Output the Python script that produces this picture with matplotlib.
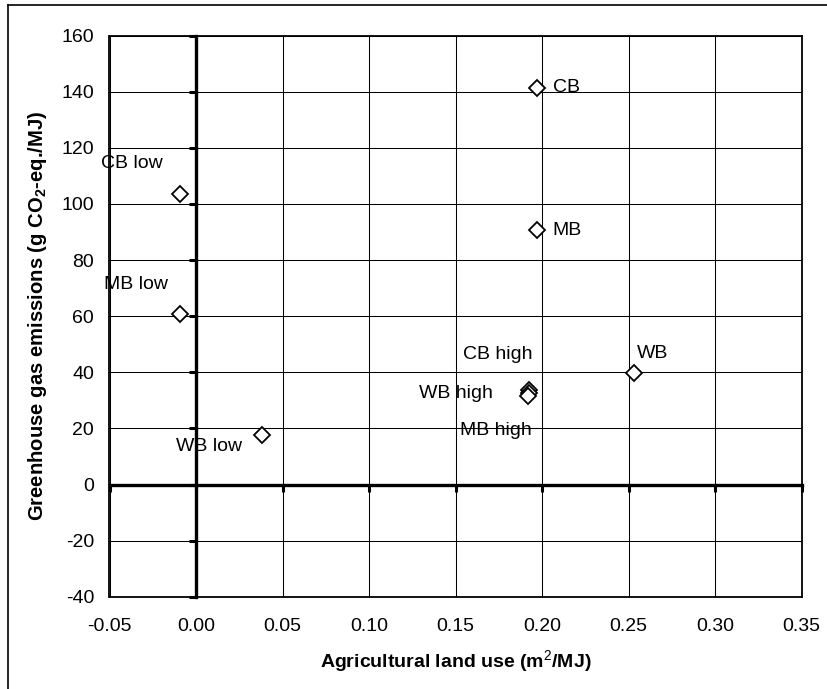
import matplotlib
matplotlib.use("Agg")
import matplotlib.pyplot as plt
from matplotlib.lines import Line2D

plt.rcParams['font.family'] = ['Liberation Sans', 'DejaVu Sans']
plt.rcParams['mathtext.fontset'] = 'custom'
plt.rcParams['mathtext.rm'] = 'Liberation Sans'
plt.rcParams['mathtext.bf'] = 'Liberation Sans:bold'

labels = ["CB", "MB", "CB low", "MB low", "WB low", "WB", "CB high", "WB high", "MB high"]
land_use = [0.197, 0.197, -0.0092, -0.0092, 0.038, 0.2533, 0.1927, 0.1922, 0.1917]
ghg = [141.4, 90.6, 103.5, 60.8, 17.6, 39.6, 33.6, 32.6, 31.6]
# label offsets in points
offsets = [(11.5, 0), (11.5, 0), (-35, 22), (-32, 21), (-38, -8), (13, 14),
           (-23, 26), (-52, 0), (-23, -25)]
xticks = [-0.05, 0.00, 0.05, 0.10, 0.15, 0.20, 0.25, 0.30, 0.35]
yticks = [-40, -20, 0, 20, 40, 60, 80, 100, 120, 140, 160]

W, H = 828, 689
fig = plt.figure(figsize=(W / 100, H / 100), dpi=100)
pos = [109.5 / W, 1 - 596.7 / H, 692 / W, 561 / H]

ax = fig.add_axes(pos)
ax.set_xlim(xticks[0], xticks[-1])
ax.set_ylim(yticks[0], yticks[-1])
ax.set_xticks(xticks)
ax.set_yticks(yticks)
ax.grid(True, color='black', lw=0.75)
ax.set_axisbelow(True)
for s in ['top', 'right']:
    ax.spines[s].set_visible(False)
ax.spines['left'].set_position(('data', 0))
ax.spines['bottom'].set_position(('data', 0))
ax.spines['left'].set_linewidth(2.4)
ax.spines['bottom'].set_linewidth(2.4)
ax.spines['left'].set_zorder(3)
ax.spines['bottom'].set_zorder(3)
ax.tick_params(direction='out', length=5, width=2.2, labelleft=False, labelbottom=False)

ax.plot(land_use, ghg, linestyle='none', marker='D', markersize=8.5,
        markerfacecolor='white', markeredgecolor='black', markeredgewidth=1.3,
        zorder=5, clip_on=False)
for lab, x, y, off in zip(labels, land_use, ghg, offsets):
    if lab in ("CB", "MB"):
        ha = 'left'
    else:
        ha = 'center'
    ax.annotate(lab, (x, y), xytext=off, textcoords='offset points',
                ha=ha, va='center', fontsize=14, zorder=6)

# frame with tick labels (Excel "low" label position)
fr = fig.add_axes(pos, sharex=ax, sharey=ax)
fr.patch.set_alpha(0)
for s in fr.spines.values():
    s.set_linewidth(1.3)
fr.tick_params(length=0, labelsize=14)
fr.tick_params(axis='x', pad=15)
fr.tick_params(axis='y', pad=11)
fr.set_xticklabels([f"{v:.2f}" for v in xticks])
fr.set_yticklabels([str(v) for v in yticks])
fr.set_xlabel("Agricultural land use (m$^\\mathrm{2}$/MJ)", fontsize=14,
              fontweight='bold', labelpad=10)
fr.set_ylabel("Greenhouse gas emissions (g CO$_\\mathbf{2}$-eq./MJ)", fontsize=14.6,
              fontweight='bold', labelpad=9)

# outer chart-area border (left and top visible)
fig.add_artist(Line2D([8 / W, 8 / W], [0, 1 - 5 / H], color='black', lw=1.2))
fig.add_artist(Line2D([8 / W, 1], [1 - 5 / H, 1 - 5 / H], color='black', lw=1.2))

fig.savefig("out.png", dpi=100)
